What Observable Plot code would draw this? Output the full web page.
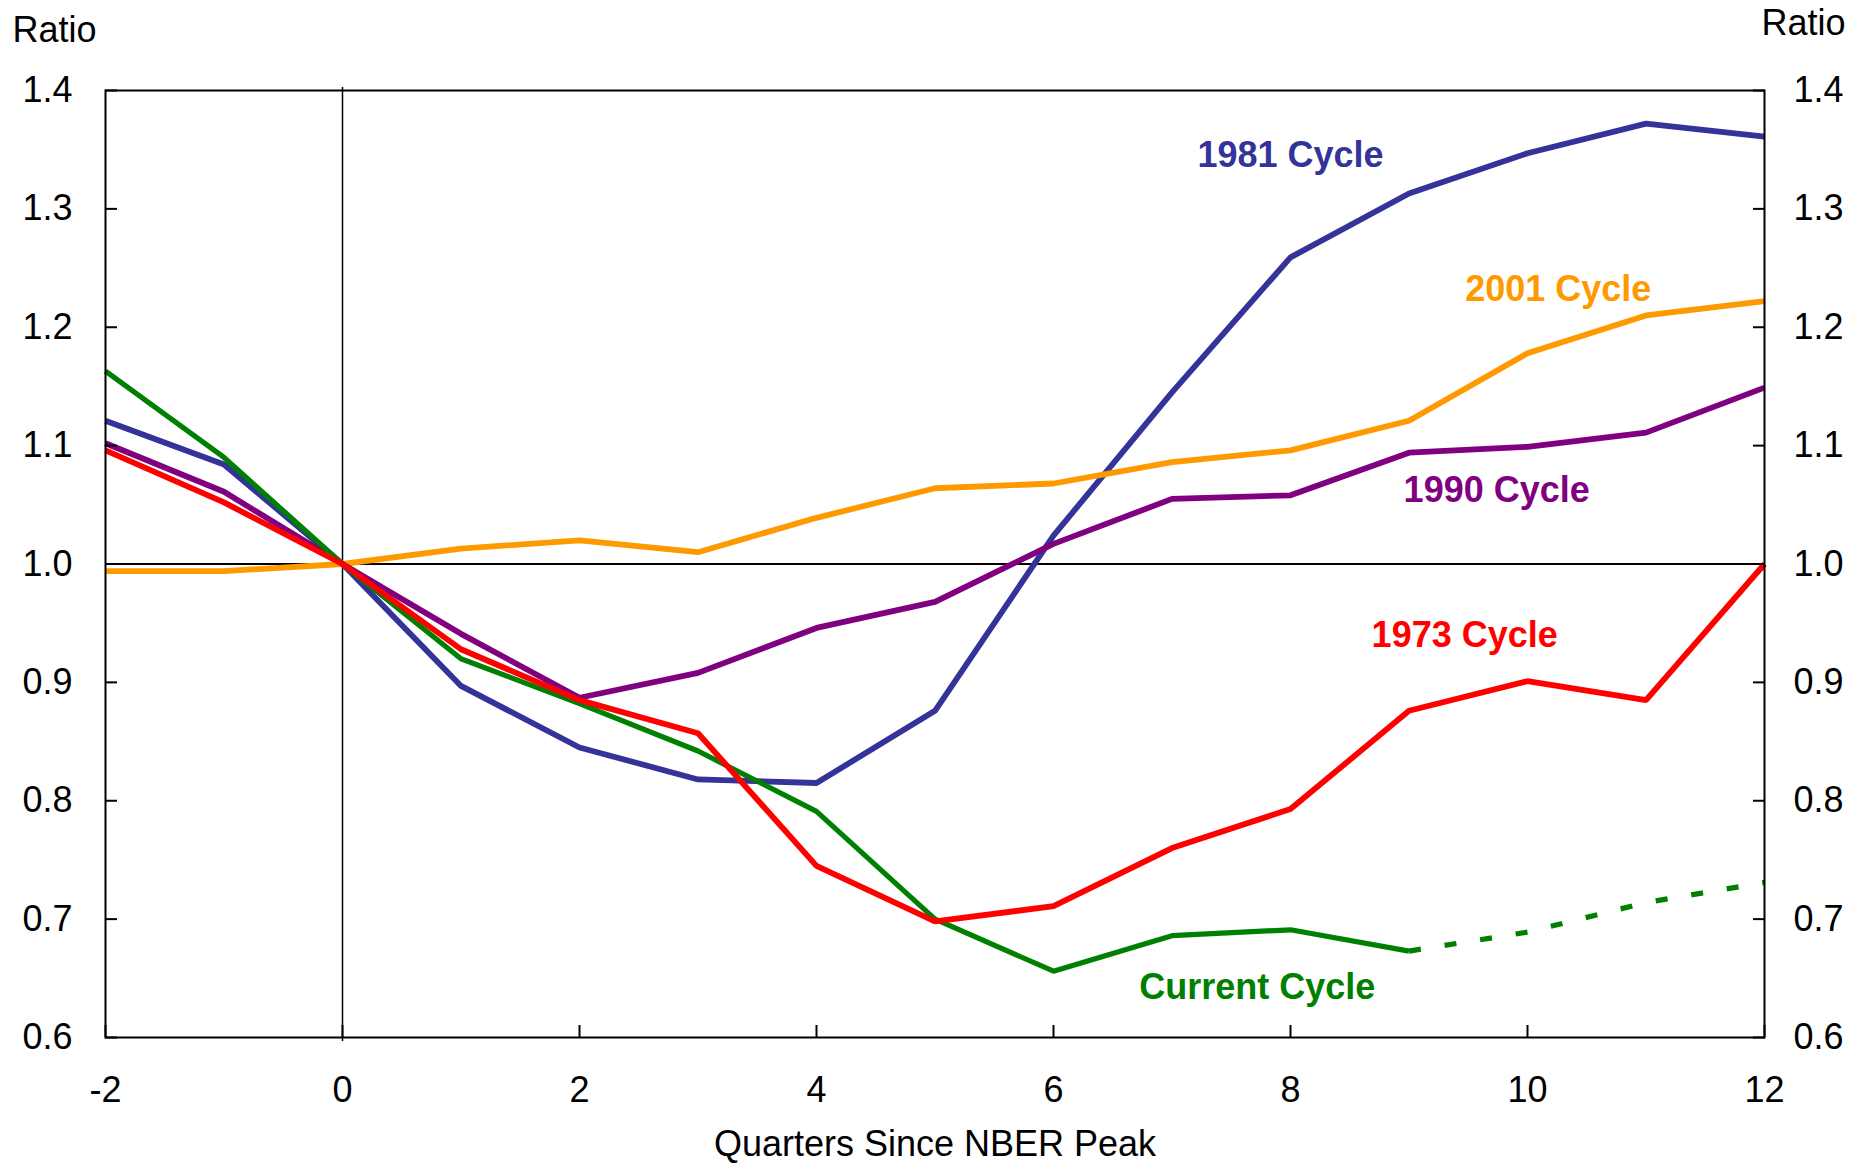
<!DOCTYPE html>
<html>
<head>
<meta charset="utf-8">
<script src="https://cdn.jsdelivr.net/npm/d3@7"></script>
<script src="https://cdn.jsdelivr.net/npm/@observablehq/plot@0.6"></script>
<style>
  html, body { margin: 0; padding: 0; background: #fff; }
  #chart { width: 1871px; height: 1165px; }
</style>
</head>
<body>
<div id="chart"></div>
<script>
// Quarters since NBER peak
const quarters = [-2, -1, 0, 1, 2, 3, 4, 5, 6, 7, 8, 9, 10, 11, 12];

// Series values (ratio to peak)
const cycle1973 = [1.096, 1.052, 1.000, 0.928, 0.885, 0.857, 0.745, 0.698, 0.711, 0.760, 0.793, 0.876, 0.901, 0.885, 1.000];
const cycle1981 = [1.121, 1.084, 1.000, 0.897, 0.845, 0.818, 0.815, 0.876, 1.024, 1.145, 1.259, 1.313, 1.347, 1.372, 1.361];
const cycle1990 = [1.102, 1.061, 1.000, 0.941, 0.887, 0.908, 0.946, 0.968, 1.017, 1.055, 1.058, 1.094, 1.099, 1.111, 1.149];
const cycle2001 = [0.994, 0.994, 1.000, 1.013, 1.020, 1.010, 1.039, 1.064, 1.068, 1.086, 1.096, 1.121, 1.178, 1.210, 1.222];
// Current cycle: actual through quarter 9, projected afterwards
const currentActualQ = [-2, -1, 0, 1, 2, 3, 4, 5, 6, 7, 8, 9];
const currentActual = [1.163, 1.090, 1.000, 0.920, 0.882, 0.842, 0.791, 0.700, 0.656, 0.686, 0.691, 0.673];
const currentProjQ = [9, 10, 11, 12];
const currentProj = [0.673, 0.689, 0.714, 0.731];

// Axis ticks
const xTicks = [-2, 0, 2, 4, 6, 8, 10, 12];
const yTicks = [0.6, 0.7, 0.8, 0.9, 1.0, 1.1, 1.2, 1.3, 1.4];

// Series labels (anchored in data space)
const labelText = ["1981 Cycle", "2001 Cycle", "1990 Cycle", "1973 Cycle", "Current Cycle"];
const labelX = [8.0, 10.26, 9.74, 9.47, 7.72];
const labelY = [1.345, 1.232, 1.062, 0.940, 0.642];

const colors = {
  "1973": "#ff0000",
  "1981": "#333399",
  "1990": "#800080",
  "2001": "#ff9900",
  "Current": "#008000"
};
const labelColors = [colors["1981"], colors["2001"], colors["1990"], colors["1973"], colors["Current"]];

const toRows = (xs, ys) => xs.map((x, i) => ({x, y: ys[i]}));
const labels = labelText.map((t, i) => ({t, x: labelX[i], y: labelY[i], c: labelColors[i]}));

const FONT = "'Liberation Sans', Arial, Helvetica, sans-serif";
const lw = 5.8;
const lwGreen = 5.2;
const lineOpts = {x: "x", y: "y", strokeLinejoin: "miter", strokeLinecap: "butt"};

const chart = Plot.plot({
  width: 1871,
  height: 1165,
  marginLeft: 105,
  marginRight: 107,
  marginTop: 90,
  marginBottom: 128,
  style: {fontFamily: FONT, background: "#fff", color: "#000", overflow: "visible"},
  x: {domain: [-2, 12], label: null},
  y: {domain: [0.6, 1.4], label: null},
  marks: [
    Plot.ruleY([1.0], {stroke: "#000", strokeWidth: 2}),
    Plot.ruleX([0], {stroke: "#000", strokeWidth: 1.5, insetTop: -3, insetBottom: -4}),
    Plot.line(toRows(quarters, cycle1981), {...lineOpts, stroke: colors["1981"], strokeWidth: lw}),
    Plot.line(toRows(quarters, cycle2001), {...lineOpts, stroke: colors["2001"], strokeWidth: lw}),
    Plot.line(toRows(quarters, cycle1990), {...lineOpts, stroke: colors["1990"], strokeWidth: lw}),
    Plot.line(toRows(currentActualQ, currentActual), {...lineOpts, stroke: colors["Current"], strokeWidth: lwGreen}),
    Plot.line(toRows(quarters, cycle1973), {...lineOpts, stroke: colors["1973"], strokeWidth: lw}),
    Plot.line(toRows(currentProjQ, currentProj), {...lineOpts, stroke: colors["Current"], strokeWidth: lwGreen, strokeDasharray: "12,24"}),
    Plot.frame({stroke: "#000", strokeWidth: 2}),
    Plot.axisY({anchor: "left", ticks: yTicks, tickSize: -12, tickPadding: 45, strokeWidth: 2,
      tickFormat: d3.format(".1f"), fontSize: 36, label: null}),
    Plot.axisY({anchor: "right", ticks: yTicks, tickSize: -12, tickPadding: 41, strokeWidth: 2,
      tickFormat: d3.format(".1f"), fontSize: 36, label: null}),
    Plot.axisX({anchor: "bottom", ticks: xTicks, tickSize: -12, tickPadding: 51, strokeWidth: 2,
      tickFormat: d => String(d), fontSize: 36, label: null}),
    Plot.text(labels, {x: "x", y: "y", text: "t", fill: "c", fontSize: 36, fontWeight: "bold",
      textAnchor: "middle", lineAnchor: "middle"}),
    Plot.text(["Ratio"], {frameAnchor: "top-left", dx: -93, dy: -60, textAnchor: "start", lineAnchor: "middle", fontSize: 36, fill: "#000"}),
    Plot.text(["Ratio"], {frameAnchor: "top-right", dx: 81, dy: -67, textAnchor: "end", lineAnchor: "middle", fontSize: 36, fill: "#000"}),
    Plot.text(["Quarters Since NBER Peak"], {frameAnchor: "bottom", dy: 107, textAnchor: "middle", lineAnchor: "middle", fontSize: 36, fill: "#000"})
  ]
});
document.getElementById("chart").appendChild(chart);
</script>
</body>
</html>
